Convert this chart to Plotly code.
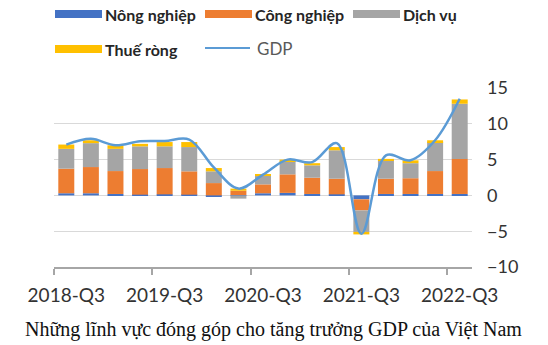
import plotly.graph_objects as go

categories = ["2018-Q3", "2018-Q4", "2019-Q1", "2019-Q2", "2019-Q3", "2019-Q4",
              "2020-Q1", "2020-Q2", "2020-Q3", "2020-Q4", "2021-Q1", "2021-Q2",
              "2021-Q3", "2021-Q4", "2022-Q1", "2022-Q2", "2022-Q3"]
nong_nghiep = [0.3, 0.3, 0.2, 0.1, 0.15, 0.1, -0.1, 0.05, 0.3, 0.35, 0.2, 0.15, -0.55, 0.2, 0.2, 0.2, 0.2]
cong_nghiep = [3.43, 3.66, 3.2, 3.58, 3.67, 3.26, 1.72, 0.6, 1.24, 2.59, 2.27, 2.18, -1.55, 2.13, 2.2, 3.2, 4.9]
dich_vu = [2.77, 3.34, 3.1, 3.17, 3.03, 3.39, 1.64, -0.45, 1.21, 1.86, 1.73, 3.97, -3.0, 2.57, 2.1, 4.05, 7.7]
thue_rong = [0.6, 0.4, 0.5, 0.35, 0.6, 0.7, 0.46, 0.3, 0.18, 0.2, 0.3, 0.45, -0.35, 0.2, 0.4, 0.25, 0.6]
gdp = [7.1, 7.9, 7.0, 7.55, 7.6, 7.8, 3.9, 0.95, 2.9, 5.0, 4.65, 7.3, -5.35, 5.6, 4.9, 7.7, 13.5]
tick_labels = ["2018-Q3", "2019-Q3", "2020-Q3", "2021-Q3", "2022-Q3"]
y_ticks = [-10, -5, 0, 5, 10, 15]

x = list(range(len(categories)))
series = [
    ("Nông nghiệp", nong_nghiep, "#4472C4"),
    ("Công nghiệp", cong_nghiep, "#ED7D31"),
    ("Dịch vụ", dich_vu, "#A5A5A5"),
    ("Thuế ròng", thue_rong, "#FFC000"),
]

fig = go.Figure()
for name, vals, col in series:
    fig.add_trace(go.Bar(x=x, y=vals, name=name, marker=dict(color=col, line=dict(width=0)),
                         customdata=categories, showlegend=False))
fig.add_trace(go.Scatter(x=x, y=gdp, name="GDP", mode="lines",
                         line=dict(color="#5B9BD5", width=2.5, shape="spline", smoothing=1),
                         showlegend=False))

W, H = 548, 345
L, R, T, B = 54, 76, 88, 78
pw, ph = W - L - R, H - T - B

def px(xp):
    return (xp - L) / pw

def py(yp):
    return (H - B - yp) / ph

shapes = []
annotations = []
legend_items = [
    ("Nông nghiệp", "#4472C4", "bar", 55, 14),
    ("Công nghiệp", "#ED7D31", "bar", 205, 14),
    ("Dịch vụ", "#A5A5A5", "bar", 353, 14),
    ("Thuế ròng", "#FFC000", "bar", 55, 49),
    ("GDP", "#5B9BD5", "line", 205, 48),
]
for name, col, kind, x0, yc in legend_items:
    if kind == "bar":
        shapes.append(dict(type="rect", xref="paper", yref="paper",
                           x0=px(x0), x1=px(x0 + 47), y0=py(yc + 4), y1=py(yc - 4),
                           fillcolor=col, line=dict(width=0)))
        annotations.append(dict(text="<b>" + name + "</b>", xref="paper", yref="paper",
                                x=px(x0 + 48), y=py(yc), xanchor="left", yanchor="middle",
                                showarrow=False, font=dict(family="Lato", size=16, color="#262626")))
    else:
        shapes.append(dict(type="line", xref="paper", yref="paper",
                           x0=px(x0), x1=px(x0 + 45), y0=py(yc), y1=py(yc),
                           line=dict(color=col, width=2)))
        annotations.append(dict(text=name, xref="paper", yref="paper",
                                x=px(x0 + 50), y=py(yc), xanchor="left", yanchor="middle",
                                showarrow=False, font=dict(family="Lato", size=17, color="#595959")))

annotations.append(dict(text="Những lĩnh vực đóng góp cho tăng trưởng GDP của Việt Nam",
                        xref="paper", yref="paper", x=px(273), y=py(329),
                        xanchor="center", yanchor="middle", showarrow=False,
                        font=dict(family="Liberation Serif", size=20, color="#111111")))

label_vals = [categories.index(t) for t in tick_labels]
boundary_vals = [v - 0.5 for v in label_vals]

fig.update_layout(
    width=W, height=H,
    margin=dict(l=L, r=R, t=T, b=B),
    paper_bgcolor="white", plot_bgcolor="white",
    barmode="relative", bargap=0.35,
    shapes=shapes, annotations=annotations,
    xaxis=dict(range=[-0.5, len(categories) - 0.5], tickvals=label_vals, ticktext=tick_labels,
               ticks="", showgrid=False, ticklabelstandoff=10,
               minor=dict(tickvals=boundary_vals, ticks="outside", ticklen=6,
                          tickcolor="#A6A6A6", tickwidth=1.5, showgrid=False),
               showline=True, linecolor="#A6A6A6", linewidth=1.5, zeroline=False,
               tickfont=dict(family="Lato", size=19, color="#333333")),
    yaxis=dict(range=[-10, 15], tickvals=y_ticks, side="right", showgrid=True,
               gridcolor="#D9D9D9", gridwidth=1.2, zeroline=True, zerolinecolor="#D9D9D9",
               zerolinewidth=1.2, ticks="", ticklabelstandoff=14,
               tickfont=dict(family="Lato", size=18, color="#333333")),
)

fig.write_html("out.html")
